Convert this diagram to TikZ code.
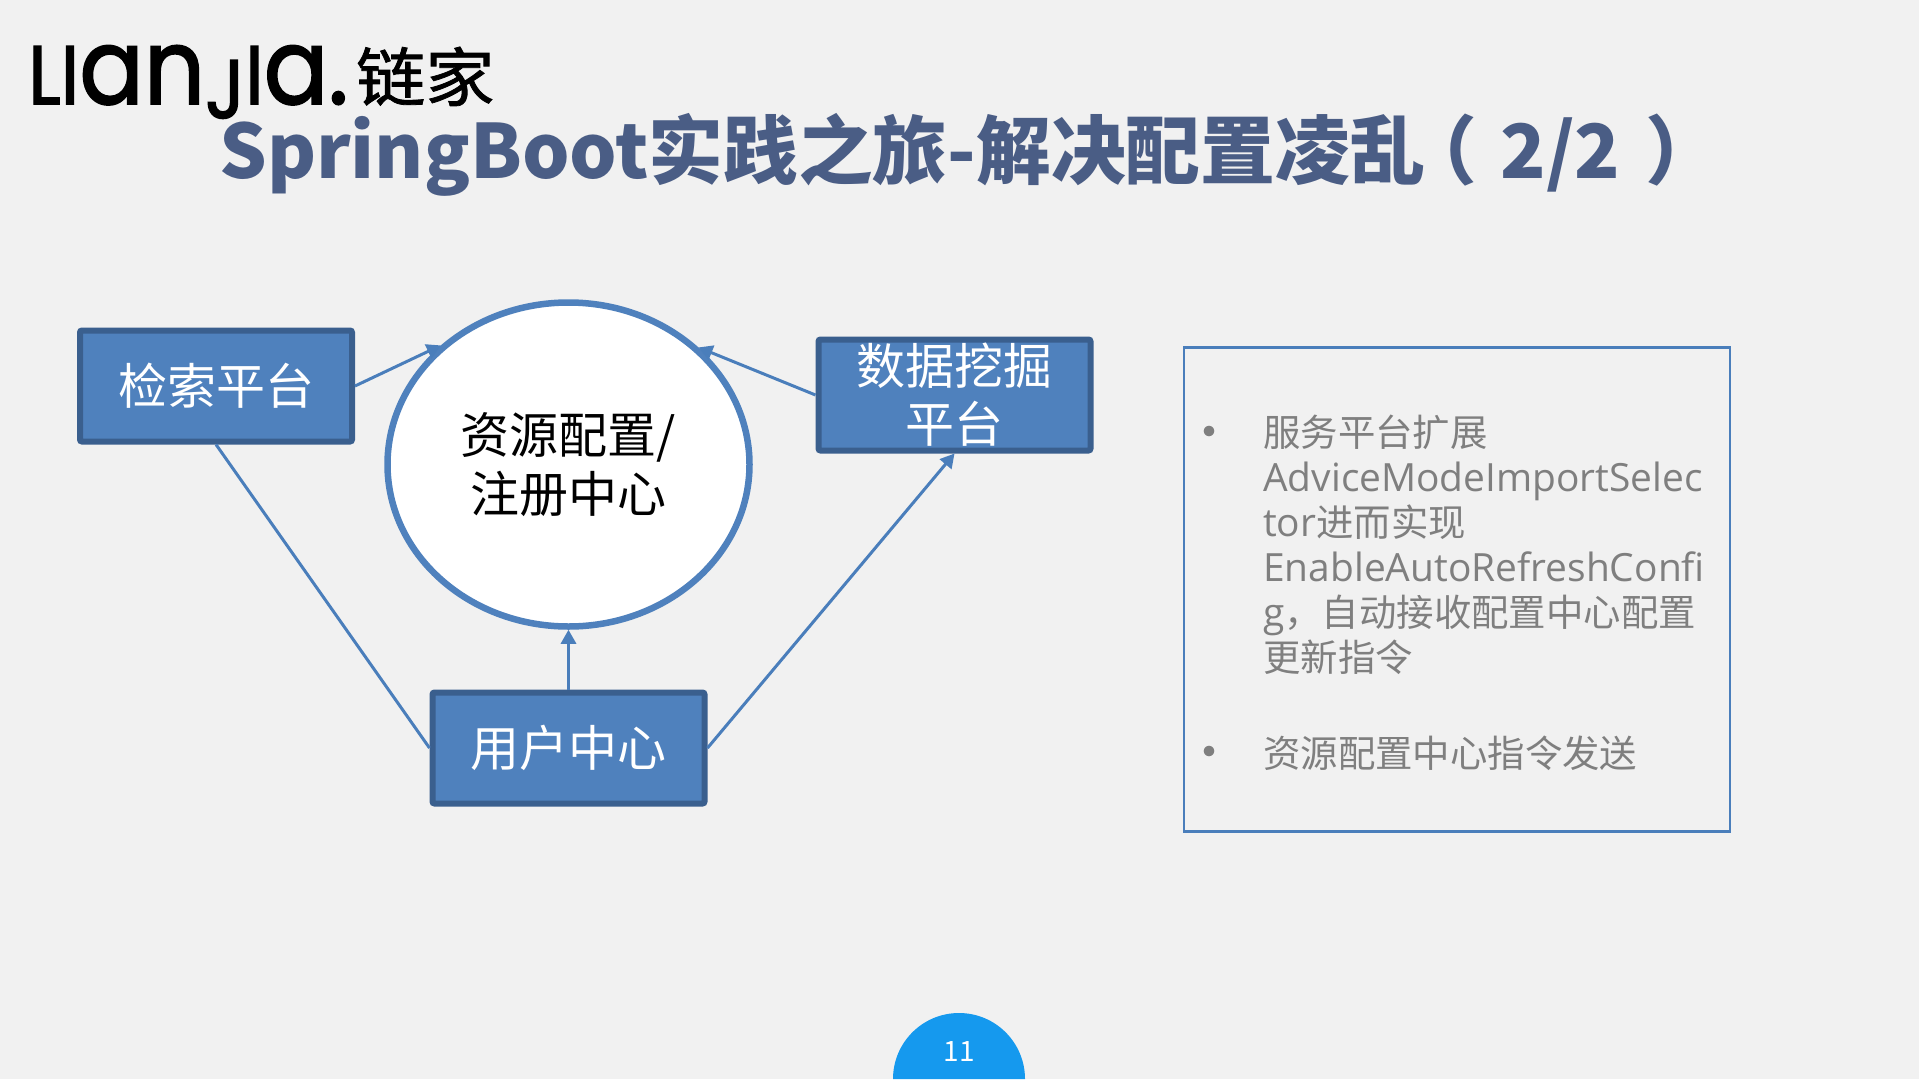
\documentclass[tikz,border=0pt]{standalone}
\usepackage{fontspec}
\setmainfont{Noto Sans CJK SC}
\newfontfamily\logofont[FakeBold=1.8]{Poppins}
\newfontfamily\logocnfont[FakeBold=1.2]{Noto Sans CJK SC}
\newfontfamily\latinfont[Scale=1.04]{Open Sans}
\usetikzlibrary{shapes,arrows,arrows.meta,positioning}
\definecolor{pagebg}{HTML}{F1F1F1}
\definecolor{titleblue}{HTML}{4A5D85}
\definecolor{boxblue}{HTML}{4F81BD}
\definecolor{boxedge}{HTML}{3A5F8E}
\definecolor{lineblue}{HTML}{4A7EBB}
\definecolor{textgray}{HTML}{7F7F7F}
\definecolor{badgeblue}{HTML}{1599EE}

\begin{document}
\begin{tikzpicture}[
    x=1pt, y=-1pt,
    box/.style={rectangle, draw=boxedge, fill=boxblue, line width=6pt, rounded corners=2pt, minimum width=272pt, minimum height=111pt, inner sep=0pt, align=center, text=white, font=\fontsize{49}{58}\selectfont},
    arrow/.style={-{Triangle[length=14pt,width=15pt]}, line width=3pt, draw=lineblue},
    plainline/.style={line width=3pt, draw=lineblue},
    bulletitem/.style={anchor=north west, inner sep=0pt, align=left, text=textgray, font=\fontsize{37.4}{45}\selectfont},
    bulletdot/.style={inner sep=0pt, text=textgray, font=\fontsize{50}{50}\selectfont}
]

% page
\fill[pagebg] (0,0) rectangle (1919,1079);
\useasboundingbox (0,0) rectangle (1919,1079);

% logo
\node[anchor=base west, inner sep=0pt, xscale=0.91] (logo) at (28,104) {\logofont\fontsize{83}{83}\selectfont LI{\fontsize{105}{105}\selectfont an}\raisebox{-14pt}{J}I{\fontsize{105}{105}\selectfont a.}};
\node[anchor=base west, inner sep=0pt, font=\logocnfont\fontsize{64}{64}\selectfont, xscale=1.08] (logocn) at (356,101) {链家};

% title
\node[anchor=west, text=titleblue, inner sep=0pt, font=\fontsize{74.8}{80}\selectfont\bfseries] (title) at (219,155) {SpringBoot实践之旅-解决配置凌乱\hspace{-.3em}（\hspace{.08em} 2/2\hspace{.1em} ）};

% platforms
\node[box] (search) at (216,386) {检索平台};
\node[box] (mining) at (954.5,395) {数据挖掘\\平台};
\node[box] (user) at (568.5,748) {用户中心};

% config center
\node[ellipse, draw=boxblue, fill=white, line width=6.5pt, minimum width=362pt, minimum height=324pt, inner sep=0pt, align=center, font=\fontsize{49}{59}\selectfont] (center) at (568.5,464.5) {资源配置/\\注册中心};

% connectors
\draw[arrow] (search.east) -- (center.137);
\draw[arrow] (mining.west) -- (center.42);
\draw[arrow] (user.north) -- (center.south);
\draw[arrow] (user.east) -- (mining.south);
\draw[plainline] (search.south) -- (user.west);

% right text box
\node[draw=lineblue, line width=2.5pt, minimum width=546pt, minimum height=484pt, inner sep=0pt] (notes) at (1457,589.5) {};
\node[bulletitem] (itemA) at (1263,415) {服务平台扩展\\{\latinfont AdviceModeImportSelec}\\{\latinfont tor}进而实现\\{\latinfont EnableAutoRefreshConfi}\\{\latinfont g}，自动接收配置中心配置\\更新指令};
\node[bulletitem, below=61pt of itemA.south west, anchor=north west] (itemB) {资源配置中心指令发送};
\node[bulletdot] (dotA) at (1209,438) {•};
\node[bulletdot] (dotB) at (1209,758) {•};

% page number
\fill[badgeblue] (893,1079) arc[start angle=180, end angle=360, radius=66] -- cycle;
\node[text=white, inner sep=0pt, font=\fontsize{28}{30}\selectfont] (pagenum) at (959.5,1052) {11};

\end{tikzpicture}
\end{document}
